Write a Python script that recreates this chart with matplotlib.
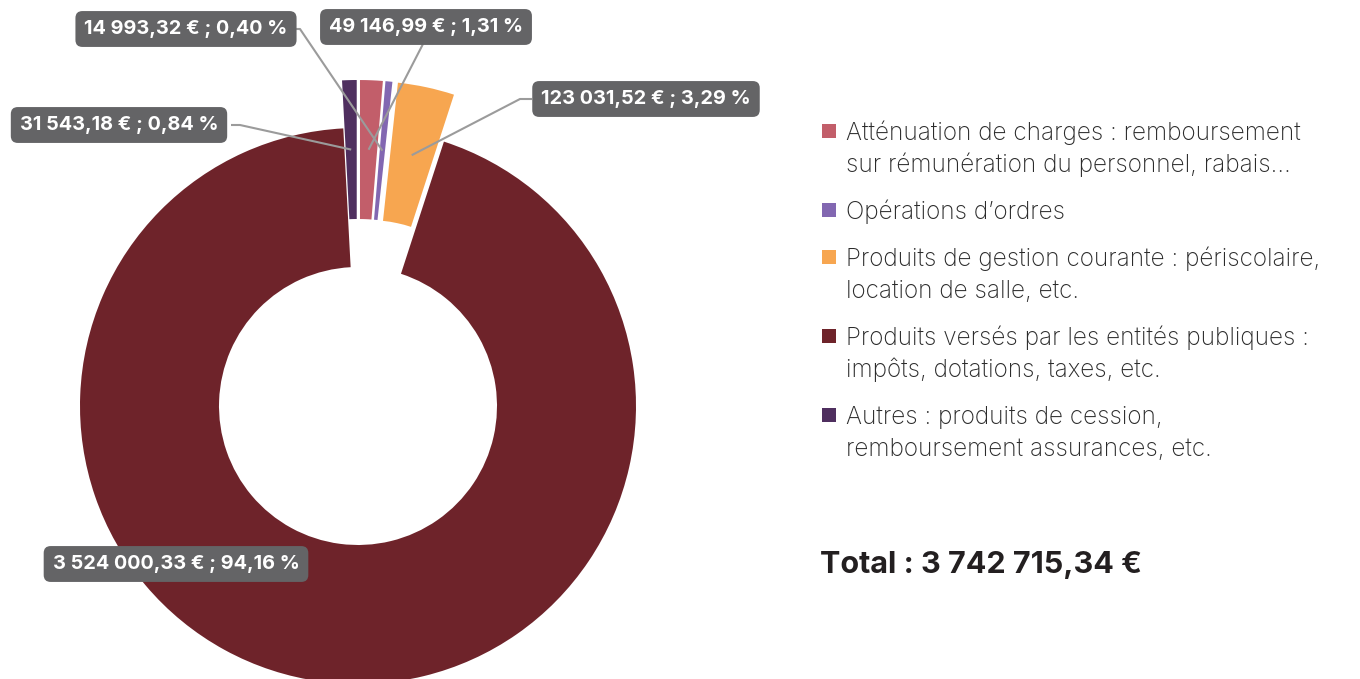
import numpy as np
import matplotlib
matplotlib.use("Agg")
import matplotlib.pyplot as plt
from matplotlib.patches import Rectangle

plt.rcParams['font.family'] = ['Inter', 'DejaVu Sans']

# data, in legend order (clockwise from the top)
categories = [
    "Atténuation de charges : remboursement\nsur rémunération du personnel, rabais…",
    "Opérations d’ordres",
    "Produits de gestion courante : périscolaire,\nlocation de salle, etc.",
    "Produits versés par les entités publiques :\nimpôts, dotations, taxes, etc.",
    "Autres : produits de cession,\nremboursement assurances, etc.",
]
values = [49146.99, 14993.32, 123031.52, 3524000.33, 31543.18]
colors = ["#c25e6a", "#8267b1", "#f7a650", "#6e232a", "#4f2f5f"]
exploded = [True, True, True, False, True]

W, H = 1360, 679


def fr(v, dec=2):
    s = f"{v:,.{dec}f}"
    return s.replace(",", " ").replace(".", ",")


total = sum(values)
labels = [f"{fr(v)} € ; {fr(100 * v / total)} %" for v in values]

# label box centres (px from top-left) and leader line start / elbow
box_pos = [(426, 27), (186, 29), (646, 99), (176, 564), (119, 125)]
elbows = [None, (300, 29), (520, 99), None, (240, 125)]
box_edge = [(423, 44), (292, 29), (532, 99), None, (231, 125)]

fig = plt.figure(figsize=(W / 100, H / 100), dpi=100)
ax = fig.add_axes([0, 0, 1, 1])

R = 278
cx, cy = 358, H - 406
# explode is in data units here (pixels)
wedges, _ = ax.pie(values, colors=colors, startangle=90, counterclock=False,
                   explode=[48 if e else 0 for e in exploded],
                   radius=R, center=(cx, cy),
                   wedgeprops=dict(width=139, linewidth=0))
ax.set_xlim(0, W)
ax.set_ylim(0, H)
ax.set_aspect('equal')
ax.axis('off')

# leader lines and label boxes
for i, w in enumerate(wedges):
    bx, by = box_pos[i]
    if box_edge[i] is not None:
        ang = np.deg2rad((w.theta1 + w.theta2) / 2)
        ox, oy = w.center
        px_, py_ = ox + 0.75 * R * np.cos(ang), oy + 0.75 * R * np.sin(ang)
        xs = [box_edge[i][0]]
        ys = [H - box_edge[i][1]]
        if elbows[i] is not None:
            xs.append(elbows[i][0])
            ys.append(H - elbows[i][1])
        xs.append(px_)
        ys.append(py_)
        ax.plot(xs, ys, color="#9b9b9b", lw=1.5, solid_capstyle='butt', zorder=3)
    ax.text(bx, H - by, labels[i], ha='center', va='center', color='white',
            fontsize=14.3, fontweight='bold', zorder=5,
            bbox=dict(boxstyle='round,pad=0.45,rounding_size=0.35',
                      fc='#646466', ec='none'))

# legend
lx, tx = 822, 846
baselines = [140, 219, 266, 345, 424]
pitch = 32
for i, lab in enumerate(categories):
    b = baselines[i]
    ax.add_patch(Rectangle((lx, H - b + 2), 14, 14, fc=colors[i], ec='none'))
    for k, line in enumerate(lab.split("\n")):
        ax.text(tx, H - (b + k * pitch), line, ha='left', va='baseline',
                fontsize=17.5, fontweight='light', color='#2b2b2b')

ax.text(820, H - 573, f"Total : {fr(total)} €", ha='left', va='baseline',
        fontsize=22, fontweight='bold', color='#231f20')

fig.savefig("out.png", dpi=100)
